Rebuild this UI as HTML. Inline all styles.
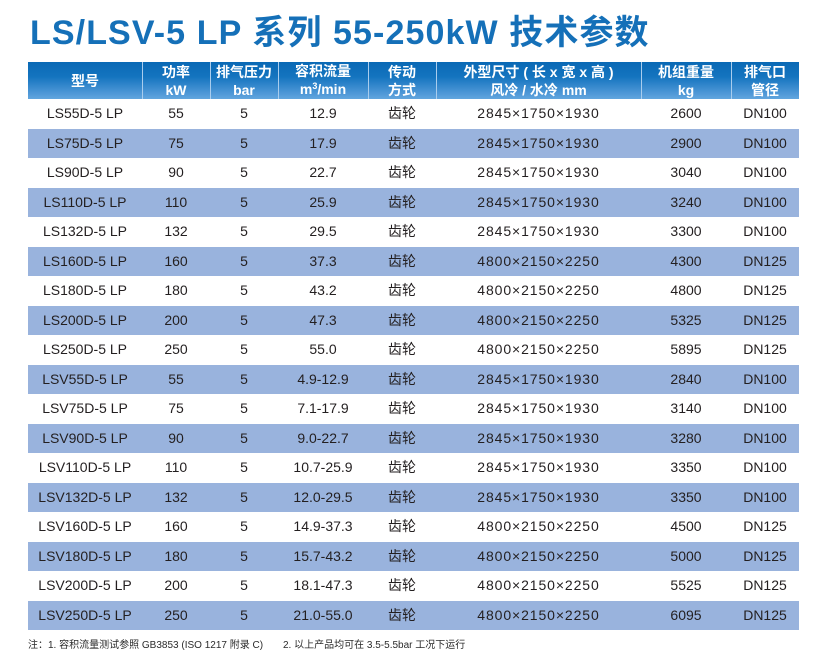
<!DOCTYPE html>
<html>
<head>
<meta charset="utf-8">
<style>
  html,body{margin:0;padding:0;background:#fff;}
  body{width:830px;height:670px;position:relative;overflow:hidden;
    font-family:"Liberation Sans","Noto Sans CJK SC",sans-serif;color:#231f20;}
  .title{position:absolute;left:30px;top:16px;font-size:34px;line-height:34px;
    font-weight:bold;color:#1570b8;letter-spacing:1.1px;white-space:nowrap;}
  .hdr{position:absolute;left:28px;top:62px;width:771px;height:37px;
    background:linear-gradient(#0a69b5 0%,#1474bf 40%,#4f98d7 85%,#62a6de 100%);}
  .hc{position:absolute;top:0;height:37px;display:flex;align-items:center;justify-content:center;
    text-align:center;color:#fff;font-weight:bold;font-size:14px;line-height:18px;white-space:nowrap;}
  .hc > div{text-align:center;}
  .sep{position:absolute;top:0;width:1px;height:37px;background:#a9cdee;}
  .row{position:absolute;left:28px;width:771px;height:29.5px;}
  .row.b{background:#99b3dd;}
  .c{position:absolute;top:0;height:29.5px;line-height:29.5px;text-align:center;font-size:14px;white-space:nowrap;}
  .dim{letter-spacing:0.9px;}
  .note{position:absolute;top:639px;font-size:10px;line-height:13px;color:#2b2b2b;white-space:nowrap;}
</style>
</head>
<body>
<div class="title">LS/LSV-5 LP 系列 55-250kW 技术参数</div>

<div class="hdr">
  <div class="hc" style="left:0;width:114px;"><div>型号</div></div>
  <div class="hc" style="left:114px;width:68px;"><div>功率<br>kW</div></div>
  <div class="hc" style="left:182px;width:68px;"><div>排气压力<br>bar</div></div>
  <div class="hc" style="left:250px;width:90px;"><div>容积流量<br>m<span style="font-size:9px;position:relative;top:-5px;">3</span>/min</div></div>
  <div class="hc" style="left:340px;width:68px;"><div>传动<br>方式</div></div>
  <div class="hc" style="left:408px;width:205px;"><div>外型尺寸 ( 长 x 宽 x 高 )<br>风冷 / 水冷 mm</div></div>
  <div class="hc" style="left:613px;width:90px;"><div>机组重量<br>kg</div></div>
  <div class="hc" style="left:703px;width:68px;"><div>排气口<br>管径</div></div>
  <div class="sep" style="left:114px;"></div>
  <div class="sep" style="left:182px;"></div>
  <div class="sep" style="left:250px;"></div>
  <div class="sep" style="left:340px;"></div>
  <div class="sep" style="left:408px;"></div>
  <div class="sep" style="left:613px;"></div>
  <div class="sep" style="left:703px;"></div>
</div>

<div class="row" style="top:99px;"><div class="c" style="left:0;width:114px;">LS55D-5 LP</div><div class="c" style="left:114px;width:68px;">55</div><div class="c" style="left:182px;width:68px;">5</div><div class="c" style="left:250px;width:90px;">12.9</div><div class="c" style="left:340px;width:68px;">齿轮</div><div class="c dim" style="left:408px;width:205px;">2845×1750×1930</div><div class="c" style="left:613px;width:90px;">2600</div><div class="c" style="left:703px;width:68px;">DN100</div></div>
<div class="row b" style="top:128.5px;"><div class="c" style="left:0;width:114px;">LS75D-5 LP</div><div class="c" style="left:114px;width:68px;">75</div><div class="c" style="left:182px;width:68px;">5</div><div class="c" style="left:250px;width:90px;">17.9</div><div class="c" style="left:340px;width:68px;">齿轮</div><div class="c dim" style="left:408px;width:205px;">2845×1750×1930</div><div class="c" style="left:613px;width:90px;">2900</div><div class="c" style="left:703px;width:68px;">DN100</div></div>
<div class="row" style="top:158px;"><div class="c" style="left:0;width:114px;">LS90D-5 LP</div><div class="c" style="left:114px;width:68px;">90</div><div class="c" style="left:182px;width:68px;">5</div><div class="c" style="left:250px;width:90px;">22.7</div><div class="c" style="left:340px;width:68px;">齿轮</div><div class="c dim" style="left:408px;width:205px;">2845×1750×1930</div><div class="c" style="left:613px;width:90px;">3040</div><div class="c" style="left:703px;width:68px;">DN100</div></div>
<div class="row b" style="top:187.5px;"><div class="c" style="left:0;width:114px;">LS110D-5 LP</div><div class="c" style="left:114px;width:68px;">110</div><div class="c" style="left:182px;width:68px;">5</div><div class="c" style="left:250px;width:90px;">25.9</div><div class="c" style="left:340px;width:68px;">齿轮</div><div class="c dim" style="left:408px;width:205px;">2845×1750×1930</div><div class="c" style="left:613px;width:90px;">3240</div><div class="c" style="left:703px;width:68px;">DN100</div></div>
<div class="row" style="top:217px;"><div class="c" style="left:0;width:114px;">LS132D-5 LP</div><div class="c" style="left:114px;width:68px;">132</div><div class="c" style="left:182px;width:68px;">5</div><div class="c" style="left:250px;width:90px;">29.5</div><div class="c" style="left:340px;width:68px;">齿轮</div><div class="c dim" style="left:408px;width:205px;">2845×1750×1930</div><div class="c" style="left:613px;width:90px;">3300</div><div class="c" style="left:703px;width:68px;">DN100</div></div>
<div class="row b" style="top:246.5px;"><div class="c" style="left:0;width:114px;">LS160D-5 LP</div><div class="c" style="left:114px;width:68px;">160</div><div class="c" style="left:182px;width:68px;">5</div><div class="c" style="left:250px;width:90px;">37.3</div><div class="c" style="left:340px;width:68px;">齿轮</div><div class="c dim" style="left:408px;width:205px;">4800×2150×2250</div><div class="c" style="left:613px;width:90px;">4300</div><div class="c" style="left:703px;width:68px;">DN125</div></div>
<div class="row" style="top:276px;"><div class="c" style="left:0;width:114px;">LS180D-5 LP</div><div class="c" style="left:114px;width:68px;">180</div><div class="c" style="left:182px;width:68px;">5</div><div class="c" style="left:250px;width:90px;">43.2</div><div class="c" style="left:340px;width:68px;">齿轮</div><div class="c dim" style="left:408px;width:205px;">4800×2150×2250</div><div class="c" style="left:613px;width:90px;">4800</div><div class="c" style="left:703px;width:68px;">DN125</div></div>
<div class="row b" style="top:305.5px;"><div class="c" style="left:0;width:114px;">LS200D-5 LP</div><div class="c" style="left:114px;width:68px;">200</div><div class="c" style="left:182px;width:68px;">5</div><div class="c" style="left:250px;width:90px;">47.3</div><div class="c" style="left:340px;width:68px;">齿轮</div><div class="c dim" style="left:408px;width:205px;">4800×2150×2250</div><div class="c" style="left:613px;width:90px;">5325</div><div class="c" style="left:703px;width:68px;">DN125</div></div>
<div class="row" style="top:335px;"><div class="c" style="left:0;width:114px;">LS250D-5 LP</div><div class="c" style="left:114px;width:68px;">250</div><div class="c" style="left:182px;width:68px;">5</div><div class="c" style="left:250px;width:90px;">55.0</div><div class="c" style="left:340px;width:68px;">齿轮</div><div class="c dim" style="left:408px;width:205px;">4800×2150×2250</div><div class="c" style="left:613px;width:90px;">5895</div><div class="c" style="left:703px;width:68px;">DN125</div></div>
<div class="row b" style="top:364.5px;"><div class="c" style="left:0;width:114px;">LSV55D-5 LP</div><div class="c" style="left:114px;width:68px;">55</div><div class="c" style="left:182px;width:68px;">5</div><div class="c" style="left:250px;width:90px;">4.9-12.9</div><div class="c" style="left:340px;width:68px;">齿轮</div><div class="c dim" style="left:408px;width:205px;">2845×1750×1930</div><div class="c" style="left:613px;width:90px;">2840</div><div class="c" style="left:703px;width:68px;">DN100</div></div>
<div class="row" style="top:394px;"><div class="c" style="left:0;width:114px;">LSV75D-5 LP</div><div class="c" style="left:114px;width:68px;">75</div><div class="c" style="left:182px;width:68px;">5</div><div class="c" style="left:250px;width:90px;">7.1-17.9</div><div class="c" style="left:340px;width:68px;">齿轮</div><div class="c dim" style="left:408px;width:205px;">2845×1750×1930</div><div class="c" style="left:613px;width:90px;">3140</div><div class="c" style="left:703px;width:68px;">DN100</div></div>
<div class="row b" style="top:423.5px;"><div class="c" style="left:0;width:114px;">LSV90D-5 LP</div><div class="c" style="left:114px;width:68px;">90</div><div class="c" style="left:182px;width:68px;">5</div><div class="c" style="left:250px;width:90px;">9.0-22.7</div><div class="c" style="left:340px;width:68px;">齿轮</div><div class="c dim" style="left:408px;width:205px;">2845×1750×1930</div><div class="c" style="left:613px;width:90px;">3280</div><div class="c" style="left:703px;width:68px;">DN100</div></div>
<div class="row" style="top:453px;"><div class="c" style="left:0;width:114px;">LSV110D-5 LP</div><div class="c" style="left:114px;width:68px;">110</div><div class="c" style="left:182px;width:68px;">5</div><div class="c" style="left:250px;width:90px;">10.7-25.9</div><div class="c" style="left:340px;width:68px;">齿轮</div><div class="c dim" style="left:408px;width:205px;">2845×1750×1930</div><div class="c" style="left:613px;width:90px;">3350</div><div class="c" style="left:703px;width:68px;">DN100</div></div>
<div class="row b" style="top:482.5px;"><div class="c" style="left:0;width:114px;">LSV132D-5 LP</div><div class="c" style="left:114px;width:68px;">132</div><div class="c" style="left:182px;width:68px;">5</div><div class="c" style="left:250px;width:90px;">12.0-29.5</div><div class="c" style="left:340px;width:68px;">齿轮</div><div class="c dim" style="left:408px;width:205px;">2845×1750×1930</div><div class="c" style="left:613px;width:90px;">3350</div><div class="c" style="left:703px;width:68px;">DN100</div></div>
<div class="row" style="top:512px;"><div class="c" style="left:0;width:114px;">LSV160D-5 LP</div><div class="c" style="left:114px;width:68px;">160</div><div class="c" style="left:182px;width:68px;">5</div><div class="c" style="left:250px;width:90px;">14.9-37.3</div><div class="c" style="left:340px;width:68px;">齿轮</div><div class="c dim" style="left:408px;width:205px;">4800×2150×2250</div><div class="c" style="left:613px;width:90px;">4500</div><div class="c" style="left:703px;width:68px;">DN125</div></div>
<div class="row b" style="top:541.5px;"><div class="c" style="left:0;width:114px;">LSV180D-5 LP</div><div class="c" style="left:114px;width:68px;">180</div><div class="c" style="left:182px;width:68px;">5</div><div class="c" style="left:250px;width:90px;">15.7-43.2</div><div class="c" style="left:340px;width:68px;">齿轮</div><div class="c dim" style="left:408px;width:205px;">4800×2150×2250</div><div class="c" style="left:613px;width:90px;">5000</div><div class="c" style="left:703px;width:68px;">DN125</div></div>
<div class="row" style="top:571px;"><div class="c" style="left:0;width:114px;">LSV200D-5 LP</div><div class="c" style="left:114px;width:68px;">200</div><div class="c" style="left:182px;width:68px;">5</div><div class="c" style="left:250px;width:90px;">18.1-47.3</div><div class="c" style="left:340px;width:68px;">齿轮</div><div class="c dim" style="left:408px;width:205px;">4800×2150×2250</div><div class="c" style="left:613px;width:90px;">5525</div><div class="c" style="left:703px;width:68px;">DN125</div></div>
<div class="row b" style="top:600.5px;"><div class="c" style="left:0;width:114px;">LSV250D-5 LP</div><div class="c" style="left:114px;width:68px;">250</div><div class="c" style="left:182px;width:68px;">5</div><div class="c" style="left:250px;width:90px;">21.0-55.0</div><div class="c" style="left:340px;width:68px;">齿轮</div><div class="c dim" style="left:408px;width:205px;">4800×2150×2250</div><div class="c" style="left:613px;width:90px;">6095</div><div class="c" style="left:703px;width:68px;">DN125</div></div>

<div class="note" style="left:28px;">注：1. 容积流量测试参照 GB3853 (ISO 1217 附录 C)</div>
<div class="note" style="left:283px;">2. 以上产品均可在 3.5-5.5bar 工况下运行</div>
</body>
</html>
